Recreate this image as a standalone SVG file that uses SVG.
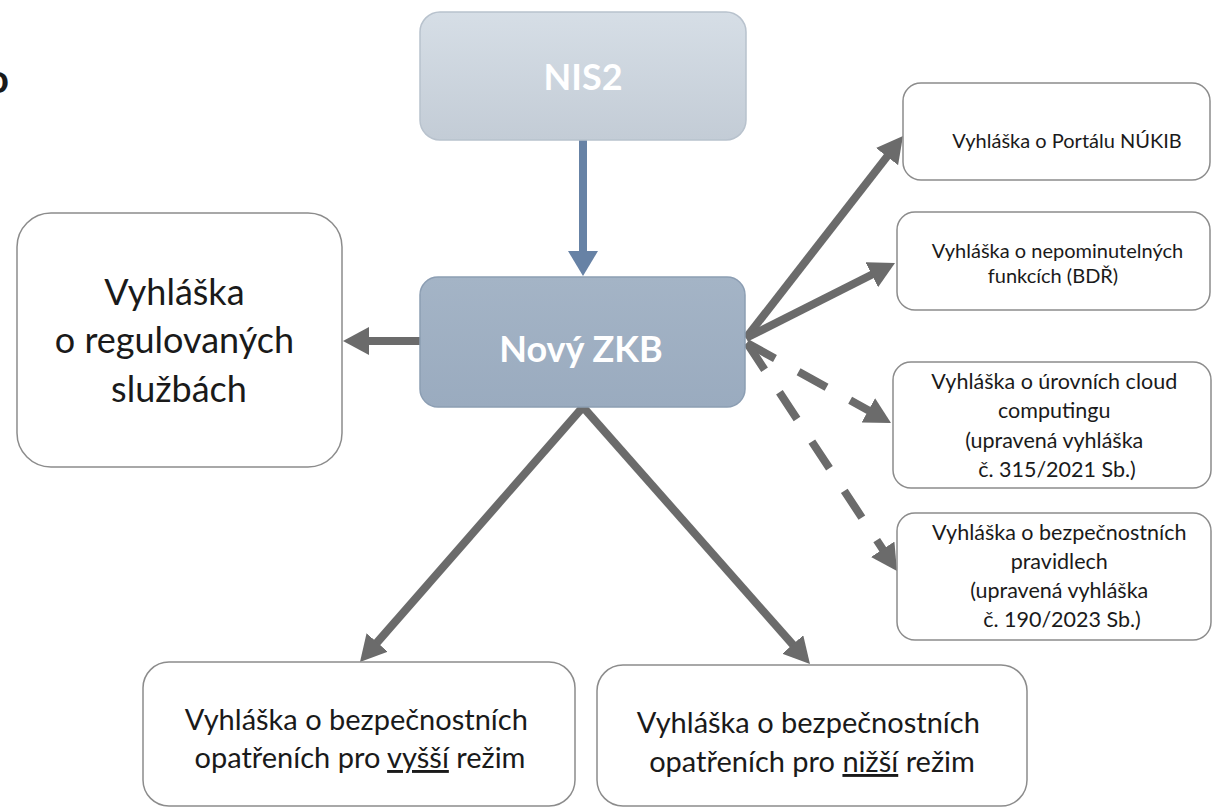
<svg xmlns="http://www.w3.org/2000/svg" width="1212" height="812" viewBox="0 0 1212 812">
<defs>
  <linearGradient id="gNis" x1="0" y1="0" x2="0" y2="1">
    <stop offset="0" stop-color="#d6dee6"/>
    <stop offset="1" stop-color="#c3ccd6"/>
  </linearGradient>
  <linearGradient id="gZkb" x1="0" y1="0" x2="0" y2="1">
    <stop offset="0" stop-color="#a4b4c6"/>
    <stop offset="1" stop-color="#9aabbf"/>
  </linearGradient>
  <marker id="hGray" markerUnits="userSpaceOnUse" markerWidth="26" markerHeight="28" refX="12" refY="14" orient="auto">
    <path d="M0,0 L26,14 L0,28 z" fill="#6b6b6b"/>
  </marker>
  <marker id="hBlue" markerUnits="userSpaceOnUse" markerWidth="25" markerHeight="30" refX="11" refY="15" orient="auto">
    <path d="M0,0 L25,15 L0,30 z" fill="#6782a5"/>
  </marker>
</defs>
<style>
  .box { fill: #ffffff; stroke: #8c8c8c; stroke-width: 1.5; }
  .t { font-family: Lato, "Liberation Sans", sans-serif; fill: #1a1a1a; text-anchor: middle; }
  .w { font-family: Lato, "Liberation Sans", sans-serif; fill: #ffffff; font-weight: bold; text-anchor: middle; }
  .c { stroke: #6b6b6b; stroke-width: 8; fill: none; marker-end: url(#hGray); }
  .d { stroke-dasharray: 32 27; }
  .u { text-decoration: underline; }
</style>
<rect width="1212" height="812" fill="#ffffff"/>

<text x="-14" y="93" font-family="Lato, 'Liberation Sans', sans-serif" font-weight="bold" font-size="40" fill="#1a1a1a">o</text>

<g id="connectors">
  <line x1="583" y1="140" x2="583" y2="262" stroke="#6782a5" stroke-width="8" marker-end="url(#hBlue)"/>
  <line class="c" x1="420" y1="341" x2="357" y2="341"/>
  <line class="c" x1="746" y1="338" x2="894.4" y2="147.1"/>
  <line class="c" x1="746" y1="338" x2="882.5" y2="269.3"/>
  <line class="c d" x1="747" y1="343" x2="878.8" y2="416.2"/>
  <line class="c d" x1="747" y1="343" x2="889.3" y2="559.3"/>
  <line class="c" x1="583" y1="407" x2="369.2" y2="651.5"/>
  <line class="c" x1="583" y1="407" x2="800.7" y2="653.5"/>
</g>

<g id="nis2">
  <rect x="420" y="12" width="326" height="128" rx="20" fill="url(#gNis)" stroke="#b8c2cd" stroke-width="1.5"/>
  <text class="w" x="583" y="90" font-size="36">NIS2</text>
</g>

<g id="zkb">
  <rect x="420" y="277" width="325" height="130" rx="18" fill="url(#gZkb)" stroke="#8c9eb3" stroke-width="1.5"/>
  <text class="w" x="581" y="362" font-size="36">Nový ZKB</text>
</g>

<g id="regulovane">
  <rect class="box" x="17" y="213" width="325" height="254" rx="34"/>
  <text class="t" font-size="36">
    <tspan x="179" y="305">Vyhláška</tspan>
    <tspan x="179" y="353">o regulovaných</tspan>
    <tspan x="179" y="402">službách</tspan>
  </text>
</g>

<g id="portal">
  <rect class="box" x="903" y="83" width="307" height="97" rx="18"/>
  <text class="t" x="1067" y="148" font-size="20">Vyhláška o Portálu NÚKIB</text>
</g>

<g id="nepominutelne">
  <rect class="box" x="897" y="212" width="313" height="98" rx="18"/>
  <text class="t" font-size="20">
    <tspan x="1060" y="258">Vyhláška o nepominutelných</tspan>
    <tspan x="1053" y="283">funkcích (BDŘ)</tspan>
  </text>
</g>

<g id="cloud">
  <rect class="box" x="893" y="362" width="318" height="126" rx="18"/>
  <text class="t" font-size="21.5">
    <tspan x="1057" y="389">Vyhláška o úrovních cloud</tspan>
    <tspan x="1057" y="418">computingu</tspan>
    <tspan x="1057" y="448">(upravená vyhláška</tspan>
    <tspan x="1057" y="477">č. 315/2021 Sb.)</tspan>
  </text>
</g>

<g id="pravidla">
  <rect class="box" x="897" y="513" width="314" height="127" rx="18"/>
  <text class="t" font-size="21.5">
    <tspan x="1062" y="540">Vyhláška o bezpečnostních</tspan>
    <tspan x="1062" y="569">pravidlech</tspan>
    <tspan x="1062" y="598">(upravená vyhláška</tspan>
    <tspan x="1062" y="627">č. 190/2023 Sb.)</tspan>
  </text>
</g>

<g id="vyssi">
  <rect class="box" x="143" y="662" width="432" height="144" rx="26"/>
  <text class="t" font-size="29">
    <tspan x="360" y="730">Vyhláška o bezpečnostních</tspan>
    <tspan x="360" y="768">opatřeních pro <tspan class="u">vyšší</tspan> režim</tspan>
  </text>
</g>

<g id="nizsi">
  <rect class="box" x="597" y="665" width="430" height="141" rx="26"/>
  <text class="t" font-size="29">
    <tspan x="812" y="733">Vyhláška o bezpečnostních</tspan>
    <tspan x="812" y="772">opatřeních pro <tspan class="u">nižší</tspan> režim</tspan>
  </text>
</g>
</svg>
